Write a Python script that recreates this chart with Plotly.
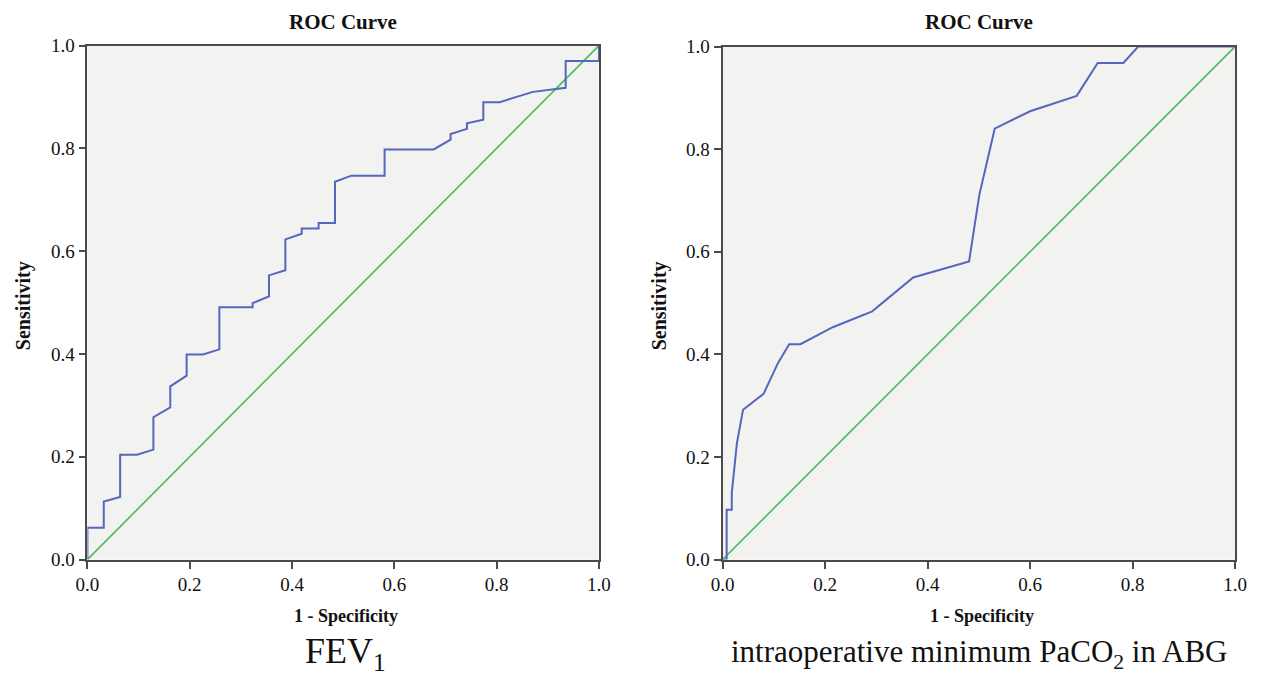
import plotly.graph_objects as go

# ---- data ----
fev1_fpr = [0, 0, 0.032, 0.032, 0.064, 0.064, 0.097, 0.129, 0.129, 0.162, 0.162, 0.194, 0.194,
            0.226, 0.258, 0.258, 0.323, 0.323, 0.355, 0.355, 0.387, 0.387, 0.419, 0.419, 0.452,
            0.452, 0.484, 0.484, 0.516, 0.581, 0.581, 0.677, 0.710, 0.710, 0.742, 0.742, 0.774,
            0.774, 0.806, 0.871, 0.935, 0.935, 1.0, 1.0]
fev1_tpr = [0, 0.062, 0.062, 0.113, 0.122, 0.204, 0.204, 0.214, 0.277, 0.296, 0.337, 0.358, 0.399,
            0.399, 0.409, 0.491, 0.491, 0.499, 0.512, 0.553, 0.563, 0.623, 0.634, 0.644, 0.644,
            0.655, 0.655, 0.735, 0.747, 0.747, 0.798, 0.798, 0.817, 0.828, 0.838, 0.849, 0.856,
            0.890, 0.890, 0.910, 0.918, 0.970, 0.970, 1.0]

paco2_fpr = [0, 0.008, 0.008, 0.018, 0.018, 0.028, 0.040, 0.080, 0.108, 0.130, 0.152, 0.215,
             0.292, 0.372, 0.481, 0.501, 0.531, 0.600, 0.691, 0.732, 0.782, 0.811, 1.0]
paco2_tpr = [0, 0, 0.097, 0.097, 0.130, 0.227, 0.292, 0.323, 0.383, 0.420, 0.420, 0.453,
             0.484, 0.550, 0.581, 0.711, 0.840, 0.874, 0.904, 0.968, 0.968, 1.0, 1.0]

ref_line = [0, 1]
tick_vals = [0, 0.2, 0.4, 0.6, 0.8, 1.0]
tick_text = ["0.0", "0.2", "0.4", "0.6", "0.8", "1.0"]
panel_titles = ["ROC Curve", "ROC Curve"]
x_title = "1 - Specificity"
y_title = "Sensitivity"
captions = ["FEV<sub>1</sub>", "intraoperative minimum PaCO<sub>2</sub> in ABG"]

W, H = 1261, 678
BLUE = "#5466be"
GREEN = "#4cba5c"
FRAME = "#4a4a4a"
SERIF = "Liberation Serif, Times New Roman, serif"

# observed mapping of figure -> screenshot (offset / scale), compensated here
OX, OY, SX, SY = 18.4, 18.4, 1240.6, 657.0
px = lambda p: (p - OX) / SX
py = lambda p: 1 - (p - OY) / SY

fig = go.Figure()
for i, (fx, fy) in enumerate([(fev1_fpr, fev1_tpr), (paco2_fpr, paco2_tpr)]):
    xa = "x" if i == 0 else "x2"
    ya = "y" if i == 0 else "y2"
    fig.add_trace(go.Scatter(x=ref_line, y=ref_line, mode="lines",
                             line=dict(color=GREEN, width=1.6),
                             xaxis=xa, yaxis=ya, showlegend=False, hoverinfo="skip"))
    fig.add_trace(go.Scatter(x=fx, y=fy, mode="lines",
                             line=dict(color=BLUE, width=2),
                             xaxis=xa, yaxis=ya, showlegend=False, cliponaxis=False))

axis_common = dict(range=[0, 1], tickvals=tick_vals, ticktext=tick_text,
                   ticks="outside", ticklen=7, tickwidth=1.5, tickcolor=FRAME,
                   showline=True, linecolor=FRAME, linewidth=1.8, mirror=True,
                   showgrid=False, zeroline=False,
                   tickfont=dict(family=SERIF, size=19, color="#111"))

fig.update_layout(
    width=W, height=H,
    margin=dict(l=0, r=0, t=0, b=0),
    paper_bgcolor="white",
    plot_bgcolor="#f2f2f1",
    xaxis=dict(domain=[px(86), px(599)], anchor="y", **axis_common),
    yaxis=dict(domain=[py(560), py(46)], anchor="x", **axis_common),
    xaxis2=dict(domain=[px(723), px(1237)], anchor="y2", **axis_common),
    yaxis2=dict(domain=[py(560), py(47)], anchor="x2", **axis_common),
)

annots = []
centers = [342.5, 980]
ylabx = [22, 660]
for i in range(2):
    annots.append(dict(text="<b>%s</b>" % panel_titles[i], x=px(centers[i]), y=py(22),
                       xref="paper", yref="paper", showarrow=False,
                       font=dict(family=SERIF, size=21, color="#111"),
                       xanchor="center", yanchor="middle"))
    annots.append(dict(text="<b>%s</b>" % x_title, x=px(centers[i] + 3), y=py(616),
                       xref="paper", yref="paper", showarrow=False,
                       font=dict(family=SERIF, size=18, color="#111"),
                       xanchor="center", yanchor="middle"))
    annots.append(dict(text="<b>%s</b>" % y_title, x=px(ylabx[i]), y=py(306),
                       xref="paper", yref="paper", showarrow=False, textangle=-90,
                       font=dict(family=SERIF, size=20, color="#111"),
                       xanchor="center", yanchor="middle"))
annots.append(dict(text=captions[0], x=px(345), y=py(654), xref="paper", yref="paper",
                   showarrow=False, font=dict(family=SERIF, size=36, color="#111"),
                   xanchor="center", yanchor="middle"))
annots.append(dict(text=captions[1], x=px(980), y=py(654), xref="paper", yref="paper",
                   showarrow=False, font=dict(family=SERIF, size=31, color="#111"),
                   xanchor="center", yanchor="middle"))
fig.update_layout(annotations=annots)

fig.write_html("out.html")
